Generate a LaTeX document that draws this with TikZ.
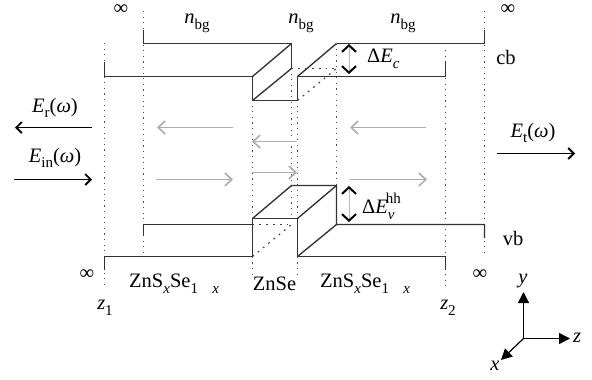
\documentclass[tikz,border=0pt]{standalone}
\usepackage{fontspec}
\setmainfont{Liberation Serif}
\usetikzlibrary{arrows.meta,positioning}
\newcommand{\iv}[1]{\textit{#1}}
\newcommand{\lo}[1]{\raisebox{-0.28em}{\fontsize{15}{15}\selectfont #1}}
\newcommand{\nbg}{\iv{n}\lo{bg}}
\newcommand{\field}[1]{\iv{E}\lo{#1}(\iv{ω})}
\newcommand{\alloy}{ZnS\lo{\iv{x}}Se\lo{1\hspace{0.95em}\iv{x}}}
\tikzset{
  band/.style={line width=1.35pt,black!80},
  guide/.style={line width=1.1pt,black!70,dash pattern=on 1.2pt off 4.4pt},
  hidden/.style={line width=1.1pt,black!75,dash pattern=on 1.8pt off 5pt},
  wave/.style={line width=1.2pt,black!32,-{Straight Barb[length=7pt,width=13pt,line width=1.6pt]}},
  field/.style={line width=1.2pt,-{Straight Barb[length=5.5pt,width=11pt,line width=1.8pt]}},
  gap/.style={line width=0.6pt,black!28,{Straight Barb[black,length=6.5pt,width=14pt,line width=2pt]}-{Straight Barb[black,length=6.5pt,width=14pt,line width=2pt]}},
  axis/.style={line width=1.2pt,-{Triangle[length=11pt,width=11pt]}},
  lbl/.style={font=\fontsize{20.5}{22}\selectfont,inner sep=0pt}
}
\begin{document}
\begin{tikzpicture}[x=1pt,y=-1pt]
  \useasboundingbox (0,0) rectangle (592,380);
  % layer boundaries
  \draw[guide] (104.5,43) -- (104.5,287);
  \draw[guide] (143.5,11) -- (143.5,256);
  \draw[guide] (252.5,100) -- (252.5,277);
  \draw[guide] (291.5,68) -- (291.5,218);
  \draw[guide] (297.5,100) -- (297.5,277);
  \draw[guide] (336.5,43.5) -- (336.5,185);
  \draw[guide] (445.5,50) -- (445.5,287);
  \draw[guide] (484.5,11) -- (484.5,254);
  % conduction band
  \draw[band] (104.5,62) -- (104.5,76.5) -- (252.5,76.5) -- (252.5,100.5) -- (297.5,100.5) -- (297.5,76.5) -- (445.5,76.5) -- (445.5,62);
  \draw[band] (143.5,30) -- (143.5,43.5) -- (291.5,43.5) -- (291.5,68.5);
  \draw[band] (336.5,43.5) -- (484.5,43.5) -- (484.5,30);
  \draw[band] (252.5,76.5) -- (291.5,43.5);
  \draw[band] (252.5,100.5) -- (291.5,68.5);
  \draw[band] (297.5,76.5) -- (336.5,43.5);
  \draw[hidden] (291.5,68.5) -- (336.5,68.5);
  \draw[hidden] (297.5,100.5) -- (336.5,68.5);
  % valence band
  \draw[band] (104.5,270) -- (104.5,256.5) -- (252.5,256.5) -- (252.5,218.5) -- (297.5,218.5) -- (297.5,256.5) -- (445.5,256.5) -- (445.5,270);
  \draw[band] (143.5,235) -- (143.5,224.5) -- (252.5,224.5);
  \draw[band] (484.5,238) -- (484.5,224.5) -- (336.5,224.5) -- (336.5,185.5) -- (291.5,185.5) -- (252.5,218.5);
  \draw[band] (297.5,218.5) -- (336.5,185.5);
  \draw[band] (297.5,256.5) -- (336.5,224.5);
  \draw[hidden] (252.5,224.5) -- (291.5,224.5);
  \draw[hidden] (252.5,256.5) -- (291.5,224.5);
  % waves inside the layers
  \draw[wave] (233,127.5) -- (157,127.5);
  \draw[wave] (426,127.5) -- (350,127.5);
  \draw[wave] (297,141.5) -- (252,141.5);
  \draw[wave] (156,179.5) -- (233,179.5);
  \draw[wave] (350,179.5) -- (427,179.5);
  \draw[wave] (252,172.5) -- (297,172.5);
  % fields outside
  \draw[field] (92,127.5) -- (15,127.5);
  \draw[field] (14,179.5) -- (92,179.5);
  \draw[field] (497,153.5) -- (575,153.5);
  \node[lbl] (er) at (55,108) {\field{r}};
  \node[lbl] (ein) at (55,158) {\field{in}};
  \node[lbl] (et) at (533,133) {\field{t}};
  % band offsets
  \draw[gap] (349,44) -- (349,74);
  \draw[gap] (349,186) -- (349,222);
  \node[lbl,anchor=west] (dec) at (367,59) {Δ\iv{E}\lo{\iv{c}}};
  \node[lbl,anchor=west] (dev) at (362,206) {Δ\iv{E}\lo{\iv{v}}\hspace{-0.42em}\raisebox{0.5em}{\fontsize{15}{15}\selectfont hh}};
  % labels
  \node[lbl] (ninf1) at (121,10) {∞};
  \node[lbl] (ninf2) at (508,10) {∞};
  \node[lbl] (ninf3) at (87,275) {∞};
  \node[lbl] (ninf4) at (480,275) {∞};
  \node[lbl] (nbg1) at (197,23) {\nbg};
  \node[lbl] (nbg2) at (301,23) {\nbg};
  \node[lbl] (nbg3) at (403,23) {\nbg};
  \node[lbl] (cb) at (506,57) {cb};
  \node[lbl] (vb) at (513,238) {vb};
  \node[lbl,anchor=west] (mat1) at (129,284) {\alloy};
  \node[lbl] (mat2) at (274.5,284) {ZnSe};
  \node[lbl,anchor=west] (mat3) at (320,284) {\alloy};
  \node[lbl] (z1) at (105,308) {\iv{z}\lo{1}};
  \node[lbl] (z2) at (448,308) {\iv{z}\lo{2}};
  % axes
  \coordinate (o) at (523.5,338.5);
  \coordinate (ay) at (523.5,292);
  \coordinate (az) at (570,338.5);
  \coordinate (ax) at (501,360);
  \draw[axis] (o) -- (ay);
  \draw[axis] (o) -- (az);
  \draw[axis] (o) -- (ax);
  \node[lbl] (ly) at (523,281) {\iv{y}};
  \node[lbl] (lz) at (577,338) {\iv{z}};
  \node[lbl] (lx) at (495,366) {\iv{x}};
\end{tikzpicture}
\end{document}
